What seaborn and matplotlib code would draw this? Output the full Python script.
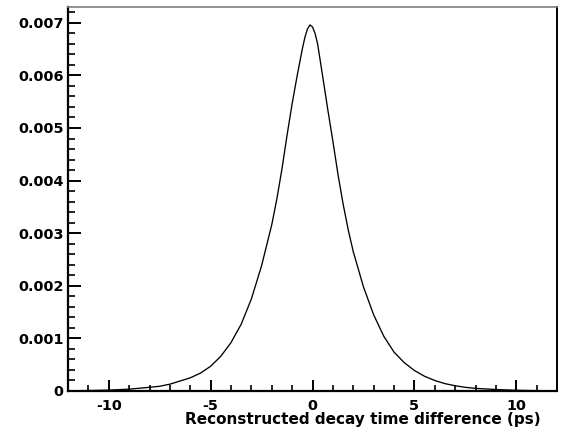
import matplotlib
matplotlib.use("Agg")
import matplotlib.pyplot as plt
from matplotlib.ticker import MultipleLocator, FuncFormatter
import seaborn as sns
import pandas as pd

# Reconstructed decay time difference (ps) and histogram content
dt_ps = [-12, -11, -10, -9, -8, -7.5, -7, -6.5, -6, -5.5, -5, -4.5, -4, -3.5, -3,
         -2.5, -2, -1.75, -1.5, -1.25, -1, -0.75, -0.5, -0.375, -0.25, -0.125, 0,
         0.125, 0.25, 0.5, 0.75,
         1.0, 1.25, 1.5, 1.75, 2.0, 2.5, 3.0, 3.5, 4.0, 4.5, 5.0, 5.5, 6.0, 6.5,
         7.0, 7.5, 8, 9, 10, 11, 12]
content = [0.000004, 0.000009, 0.000017, 0.000035, 0.00007, 0.00009, 0.00013,
           0.00019, 0.00025, 0.00034, 0.00047, 0.00066, 0.00092, 0.00127, 0.00175,
           0.00238, 0.00316, 0.00365, 0.00422, 0.00486, 0.00546, 0.00600, 0.00650,
           0.00672, 0.00688, 0.00696, 0.00692, 0.00680, 0.00660, 0.00598, 0.00535,
           0.00475, 0.00412, 0.00356,
           0.00307, 0.00265, 0.00198, 0.00145, 0.00104, 0.00074, 0.00054, 0.00039,
           0.00028, 0.00020, 0.00014, 0.00010, 0.00007, 0.00005, 0.000028, 0.000014,
           0.000007, 0.000003]
x_major = [-10, -5, 0, 5, 10]
x_label = "Reconstructed decay time difference (ps)"

sns.set_style("white")
plt.rcParams["font.family"] = ["DejaVu Sans"]
plt.rcParams["axes.unicode_minus"] = False

df = pd.DataFrame({"dt": dt_ps, "n": content})

fig = plt.figure(figsize=(5.61, 4.34), dpi=100)
ax = fig.add_axes([68 / 561, 1 - 391 / 434, (557 - 68) / 561, (391 - 7) / 434])

sns.lineplot(data=df, x="dt", y="n", ax=ax, color="black", linewidth=0.95)

ax.set_xlim(-12, 12)
ax.set_ylim(0, 0.0073)
ax.xaxis.set_major_locator(MultipleLocator(5))
ax.xaxis.set_minor_locator(MultipleLocator(1))
ax.yaxis.set_major_locator(MultipleLocator(0.001))
ax.yaxis.set_minor_locator(MultipleLocator(0.0002))
ax.set_xticks(x_major)
ax.yaxis.set_major_formatter(FuncFormatter(lambda v, p: "0" if abs(v) < 1e-9 else f"{v:.3f}"))
ax.xaxis.set_major_formatter(FuncFormatter(lambda v, p: f"{v:g}"))

ax.tick_params(bottom=True, left=True, top=False, right=False, which="both")
ax.tick_params(axis="x", which="major", direction="in", length=8, width=1.4,
               pad=6, labelsize=10.4, colors="black")
ax.tick_params(axis="x", which="minor", direction="in", length=4.3, width=1.2,
               colors="black")
ax.tick_params(axis="y", which="major", direction="in", length=9, width=1.4,
               pad=3, labelsize=10.4, colors="black")
ax.tick_params(axis="y", which="minor", direction="in", length=5, width=1.2,
               colors="black")
for lab in ax.get_xticklabels() + ax.get_yticklabels():
    lab.set_fontweight("bold")

for side in ["left", "bottom"]:
    ax.spines[side].set_linewidth(1.6)
    ax.spines[side].set_color("black")
ax.spines["right"].set_linewidth(1.4)
ax.spines["right"].set_color("black")
ax.spines["top"].set_linewidth(1.2)
ax.spines["top"].set_color("#7f7f7f")

ax.set_ylabel("")
ax.set_xlabel(x_label, fontsize=11.0, fontweight="bold", ha="right", color="black")
ax.xaxis.set_label_coords((541 - 68) / 489, -21 / 384)
ax.xaxis.label.set_va("top")

fig.savefig("out.png", dpi=100, facecolor="white")
